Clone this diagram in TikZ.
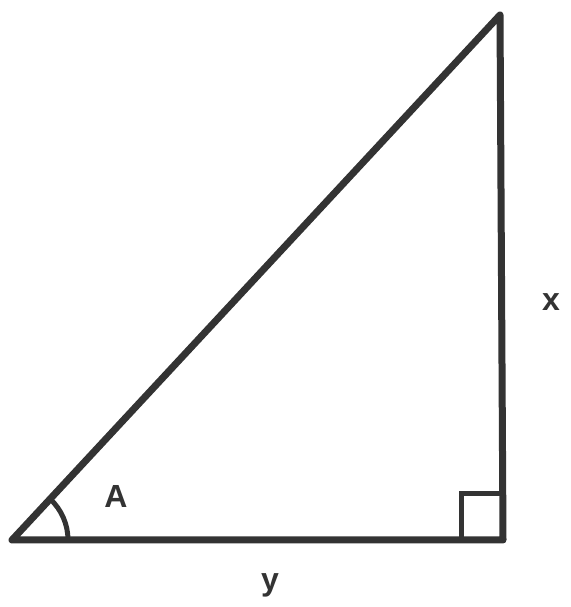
\documentclass[tikz,border=0pt]{standalone}
\usepackage{fontspec}
\setmainfont{Liberation Sans}
\usetikzlibrary{calc}
\begin{document}
\begin{tikzpicture}[x=1pt,y=1pt,
  edge/.style={line width=7pt, draw=black!80, line cap=round, line join=round},
  anglemark/.style={line width=5pt, draw=black!80},
  lbl/.style={font=\fontsize{32}{32}\selectfont\bfseries, text=black!80}]
\useasboundingbox (0,0) rectangle (570,607);
\coordinate (B) at (12,67);
\coordinate (C) at (503,67);
\coordinate (T) at (500,592);
\draw[edge] (B) -- (C) -- (T) -- cycle;
\draw[anglemark] (461,67) -- (461,113) -- (503,113);
\draw[anglemark] ($(B)+(56,0)$) arc (0:47:56);
\node[lbl] (a) at (116,111) {A};
\node[lbl] (xl) at (551,305) {x};
\node[lbl] (yl) at (270,22) {y};
\end{tikzpicture}
\end{document}
